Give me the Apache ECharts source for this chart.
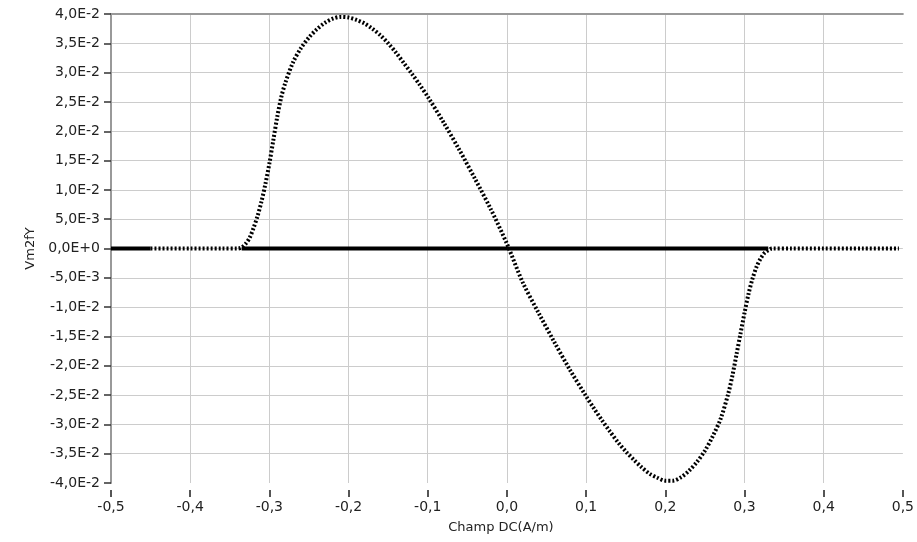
<!DOCTYPE html>
<html>
<head>
<meta charset="utf-8">
<script src="https://cdn.jsdelivr.net/npm/echarts@6/dist/echarts.min.js"></script>
<style>html,body{margin:0;padding:0;background:#fff}#c{width:917px;height:542px}</style>
</head>
<body>
<div id="c"></div>
<script>
// Curve (dotted) values: Champ DC (A/m) vs Vm2fY
var curveX = [-0.45, -0.40, -0.36, -0.34, -0.335, -0.33, -0.325, -0.32, -0.315, -0.31, -0.305, -0.30, -0.295, -0.29, -0.285, -0.28, -0.27, -0.26, -0.25, -0.24, -0.23, -0.22, -0.21, -0.20, -0.19, -0.18, -0.17, -0.16, -0.15, -0.14, -0.13, -0.12, -0.11, -0.10, -0.08, -0.06, -0.04, -0.02, 0.0, 0.02, 0.04, 0.06, 0.08, 0.10, 0.11, 0.12, 0.13, 0.14, 0.15, 0.16, 0.17, 0.18, 0.19, 0.20, 0.21, 0.22, 0.23, 0.24, 0.25, 0.26, 0.27, 0.28, 0.285, 0.29, 0.295, 0.30, 0.305, 0.31, 0.315, 0.32, 0.325, 0.33, 0.335, 0.36, 0.40, 0.45, 0.495];
var curveY = [0, 0, 0, 0, 0.0002, 0.0008, 0.0018, 0.0035, 0.0055, 0.0080, 0.0110, 0.0145, 0.0185, 0.0225, 0.0258, 0.0282, 0.0318, 0.0342, 0.0360, 0.0374, 0.0385, 0.0392, 0.0395, 0.0394, 0.0390, 0.0384, 0.0375, 0.0364, 0.0350, 0.0334, 0.0316, 0.0298, 0.0279, 0.0259, 0.0215, 0.0168, 0.0118, 0.0066, 0.0008, -0.0058, -0.0110, -0.0160, -0.0208, -0.0252, -0.0273, -0.0293, -0.0312, -0.0330, -0.0346, -0.0360, -0.0373, -0.0384, -0.0391, -0.0396, -0.0396, -0.0390, -0.0379, -0.0364, -0.0345, -0.0320, -0.0290, -0.0245, -0.0215, -0.0180, -0.0145, -0.0110, -0.0078, -0.0052, -0.0032, -0.0018, -0.0008, -0.0003, 0, 0, 0, 0, 0];
// Thick zero line segments (x ranges)
var zeroX = [-0.5, -0.45, null, -0.335, 0.33];
var zeroY = [0, 0, null, 0, 0];
// Axis ticks
var xTickValues = [-0.5, -0.4, -0.3, -0.2, -0.1, 0.0, 0.1, 0.2, 0.3, 0.4, 0.5];
var xTickLabels = ['-0,5', '-0,4', '-0,3', '-0,2', '-0,1', '0,0', '0,1', '0,2', '0,3', '0,4', '0,5'];
var yTickValues = [-0.04, -0.035, -0.03, -0.025, -0.02, -0.015, -0.01, -0.005, 0, 0.005, 0.01, 0.015, 0.02, 0.025, 0.03, 0.035, 0.04];
var yTickLabels = ['-4,0E-2', '-3,5E-2', '-3,0E-2', '-2,5E-2', '-2,0E-2', '-1,5E-2', '-1,0E-2', '-5,0E-3', '0,0E+0', '5,0E-3', '1,0E-2', '1,5E-2', '2,0E-2', '2,5E-2', '3,0E-2', '3,5E-2', '4,0E-2'];
var xName = 'Champ DC(A/m)';
var yName = 'Vm2fY';

function nearestLabel(vals, labels, v) {
  var best = 0, d = Infinity;
  for (var i = 0; i < vals.length; i++) {
    var dd = Math.abs(vals[i] - v);
    if (dd < d) { d = dd; best = i; }
  }
  return labels[best];
}

var curveData = curveX.map(function (x, i) { return [x, curveY[i]]; });
var zeroData = zeroX.map(function (x, i) { return x === null ? ['-', '-'] : [x, zeroY[i]]; });

var font = 'DejaVu Sans';
var chart = echarts.init(document.getElementById('c'), null, { renderer: 'canvas' });
chart.setOption({
  animation: false,
  backgroundColor: '#ffffff',
  grid: { left: 111, right: 9, top: 14, bottom: 59, containLabel: false },
  xAxis: [{
    type: 'value', min: -0.5, max: 0.5, interval: 0.1,
    position: 'bottom', offset: 7,
    name: xName, nameLocation: 'middle', nameGap: 31,
    nameTextStyle: { fontFamily: font, fontSize: 13, color: '#222', padding: [0, 12, 0, 0] },
    axisLine: { show: false, onZero: false },
    axisTick: { show: true, length: 7, lineStyle: { color: '#555', width: 2 } },
    axisLabel: { fontFamily: font, fontSize: 14, color: '#222', margin: 10,
      formatter: function (v) { return nearestLabel(xTickValues, xTickLabels, v); } },
    splitLine: { show: true, showMinLine: false, showMaxLine: false, lineStyle: { color: '#cccccc', width: 1 } }
  }, {
    type: 'value', min: -0.5, max: 0.5, position: 'top',
    axisLine: { show: true, onZero: false, lineStyle: { color: '#999', width: 2 } },
    axisTick: { show: false }, axisLabel: { show: false }, splitLine: { show: false }
  }],
  yAxis: {
    type: 'value', min: -0.04, max: 0.04, interval: 0.005,
    position: 'left',
    name: yName, nameLocation: 'middle', nameGap: 72, nameRotate: 90,
    nameTextStyle: { fontFamily: font, fontSize: 13, color: '#222' },
    axisLine: { show: true, onZero: false, lineStyle: { color: '#999', width: 2 } },
    axisTick: { show: true, length: 7, lineStyle: { color: '#333', width: 1.5 } },
    axisLabel: { fontFamily: font, fontSize: 14, color: '#222', margin: 11,
      formatter: function (v) { return nearestLabel(yTickValues, yTickLabels, v); } },
    splitLine: { show: true, showMinLine: false, showMaxLine: false, lineStyle: { color: '#cccccc', width: 1 } }
  },
  series: [{
    type: 'line', data: zeroData, showSymbol: false, connectNulls: false,
    lineStyle: { color: '#000', width: 4 }, z: 2
  }, {
    type: 'line', data: curveData, showSymbol: false, smooth: 0.3,
    lineStyle: { color: '#000', width: 4, type: [2, 2] }, z: 3
  }]
});
</script>
</body>
</html>
